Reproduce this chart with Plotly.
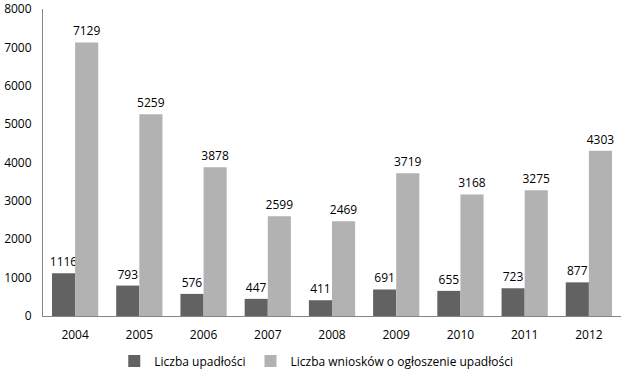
import plotly.graph_objects as go

years = ["2004", "2005", "2006", "2007", "2008", "2009", "2010", "2011", "2012"]
upadlosci = [1116, 793, 576, 447, 411, 691, 655, 723, 877]
wnioski = [7129, 5259, 3878, 2599, 2469, 3719, 3168, 3275, 4303]

font = "Open Sans, Liberation Sans, sans-serif"

fig = go.Figure()
fig.add_trace(go.Bar(x=years, y=upadlosci, name="Liczba upadłości",
                     marker=dict(color="#626262", line=dict(width=0)),
                     text=[str(v) for v in upadlosci], textposition="outside",
                     constraintext="none",
                     textfont=dict(size=12, color="#000000", family=font), cliponaxis=False))
fig.add_trace(go.Bar(x=years, y=wnioski, name="Liczba wniosków o ogłoszenie upadłości",
                     marker=dict(color="#b2b2b2", line=dict(width=0)),
                     text=[str(v) for v in wnioski], textposition="outside",
                     constraintext="none",
                     textfont=dict(size=12, color="#000000", family=font), cliponaxis=False))

fig.update_layout(
    width=625, height=376,
    margin=dict(l=43, r=4, t=9, b=60, autoexpand=False),
    paper_bgcolor="white", plot_bgcolor="white",
    barmode="group", bargap=0.28, bargroupgap=0,
    font=dict(family=font, size=12, color="#000000"),
    showlegend=True,
    legend=dict(orientation="h", x=0.506, xanchor="center", xref="container",
                y=15/376, yanchor="middle", yref="container",
                font=dict(size=12), tracegroupgap=0),
    uniformtext=dict(mode=False),
)
fig.update_xaxes(showline=True, linecolor="#868686", linewidth=1, ticks="",
                 showgrid=False, tickfont=dict(size=12), ticklabelstandoff=8,
                 automargin=False)
fig.update_yaxes(range=[0, 8000], dtick=1000, showline=True, linecolor="#868686",
                 linewidth=1, showgrid=False, ticks="", zeroline=False,
                 tickfont=dict(size=12), ticklabelstandoff=8, automargin=False)

fig.write_html("out.html", config={"displayModeBar": False},
               post_script="document.body.style.margin='0';")
